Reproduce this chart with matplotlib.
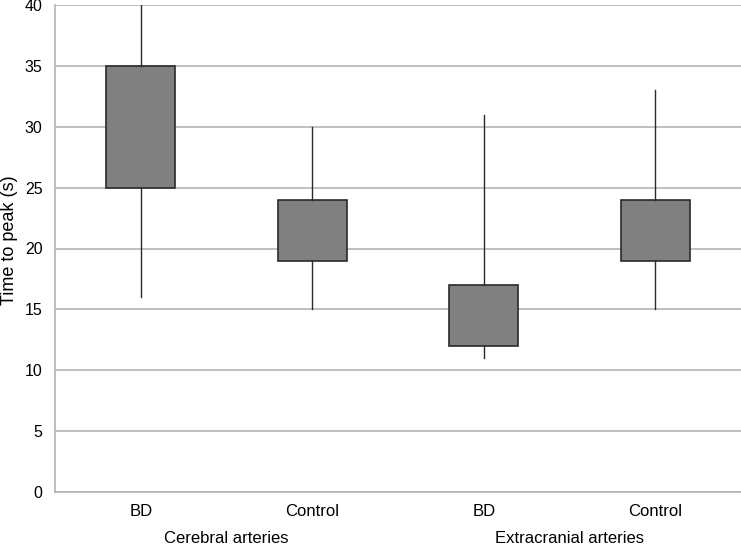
import matplotlib
matplotlib.use("Agg")
import matplotlib.pyplot as plt

categories = ["BD", "Control", "BD", "Control"]
groups = ["Cerebral arteries", "Extracranial arteries"]
q1 = [25, 19, 12, 19]
q3 = [35, 24, 17, 24]
whislo = [16, 15, 11, 15]
whishi = [40, 30, 31, 33]
yticks = [0, 5, 10, 15, 20, 25, 30, 35, 40]

plt.rcParams['font.family'] = ['Liberation Sans', 'DejaVu Sans']

fig = plt.figure(figsize=(7.41, 5.45), dpi=100)
ax = fig.add_axes([55/741, 53/545, 686/741, 487/545])

stats = []
for i in range(len(categories)):
    stats.append(dict(med=q1[i], q1=q1[i], q3=q3[i], whislo=whislo[i], whishi=whishi[i],
                      fliers=[], label=categories[i]))

positions = list(range(len(categories)))
ax.bxp(stats, positions=positions, widths=0.4, patch_artist=True, showcaps=False,
       showfliers=False,
       boxprops=dict(facecolor="#808080", edgecolor="#2a2a2a", linewidth=1.2),
       whiskerprops=dict(color="#2a2a2a", linewidth=1.0),
       medianprops=dict(visible=False), zorder=3)

ax.set_xlim(-0.5, 3.5)
ax.set_ylim(0, 40)
ax.set_yticks(yticks)
ax.set_yticklabels([str(v) for v in yticks], fontsize=11.5)
ax.yaxis.grid(True, color="#b4b4b4", linewidth=1.2, zorder=0)
ax.set_axisbelow(True)
ax.tick_params(axis='both', length=0)
ax.tick_params(axis='y', pad=9)
ax.tick_params(axis='x', pad=9)
ax.set_xticks(positions)
ax.set_xticklabels(categories, fontsize=12)

for s in ["top", "right"]:
    ax.spines[s].set_visible(False)
for s in ["left", "bottom"]:
    ax.spines[s].set_color("#b4b4b4")
    ax.spines[s].set_linewidth(1.2)

for gi, g in enumerate(groups):
    ax.text(gi * 2 + 0.5, -(543 - 492) / 487, g, transform=ax.get_xaxis_transform(),
            ha="center", va="baseline", fontsize=12)

fig.text(10/741, 1 - 240/545, "Time to peak (s)", rotation=90, ha="center", va="center",
         fontsize=13)

fig.savefig("out.png", dpi=100)
